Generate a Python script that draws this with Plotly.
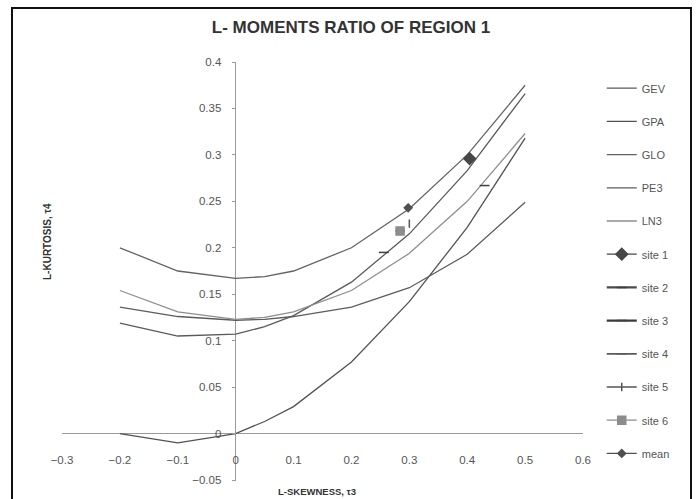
import plotly.graph_objects as go

# L-skewness values at which the theoretical curves are tabulated
tau3 = [-0.2, -0.1, 0.0, 0.05, 0.1, 0.2, 0.3, 0.4, 0.5]

# L-kurtosis of the candidate distributions
gev = [0.119, 0.105, 0.107, 0.115, 0.127, 0.163, 0.215, 0.283, 0.366]
gpa = [0.000, -0.010, 0.000, 0.013, 0.029, 0.077, 0.142, 0.222, 0.318]
glo = [0.200, 0.175, 0.167, 0.169, 0.175, 0.200, 0.242, 0.300, 0.375]
pe3 = [0.136, 0.126, 0.122, 0.123, 0.126, 0.136, 0.157, 0.193, 0.249]
ln3 = [0.154, 0.131, 0.123, 0.125, 0.131, 0.154, 0.194, 0.250, 0.323]

# Sample L-moment ratios of the sites in the region
site_names = ["site 1", "site 2", "site 3", "site 4", "site 5", "site 6", "mean"]
site_t3 = [0.404, 0.430, 0.256, 0.284, 0.300, 0.284, 0.298]
site_t4 = [0.296, 0.267, 0.195, 0.218, 0.226, 0.218, 0.243]

curve_names = ["GEV", "GPA", "GLO", "PE3", "LN3"]
curve_values = [gev, gpa, glo, pe3, ln3]
curve_colors = ["#5a5a5a", "#525252", "#636363", "#5c5c5c", "#8e8e8e"]

site_styles = {
    "site 1": dict(symbol="diamond", size=9, color="#474747", lw=1.3, lc="#474747"),
    "site 2": dict(symbol="line-ew", size=7, color="#3e3e3e", lw=2.2, lc="#4a4a4a"),
    "site 3": dict(symbol="line-ew", size=7, color="#3e3e3e", lw=2.2, lc="#3a3a3a"),
    "site 4": dict(symbol="line-ew", size=7, color="#5a5a5a", lw=1.8, lc="#5a5a5a"),
    "site 5": dict(symbol="line-ns", size=6, color="#555555", lw=1.3, lc="#555555"),
    "site 6": dict(symbol="square", size=8, color="#8c8c8c", lw=1.3, lc="#8c8c8c"),
    "mean": dict(symbol="diamond", size=6, color="#505050", lw=1.3, lc="#505050"),
}

fig = go.Figure()

for name, vals, col in zip(curve_names, curve_values, curve_colors):
    fig.add_trace(go.Scatter(
        x=tau3, y=vals, mode="lines", name=name, legendgroup=name,
        line=dict(color=col, width=1.3),
    ))

for name, x, y in zip(site_names, site_t3, site_t4):
    s = site_styles[name]
    fig.add_trace(go.Scatter(
        x=[x], y=[y], mode="lines+markers", name=name, legendgroup=name,
        line=dict(color=s["lc"], width=s["lw"]),
        marker=dict(symbol=s["symbol"], size=s["size"], color=s["color"],
                    line=dict(color=s["color"], width=1.5)),
    ))

tick_font = dict(family="Liberation Sans, Arial, sans-serif", size=11.5, color="#555555")


def px_x(px):
    """Horizontal pixel position -> paper coordinate."""
    return (px - 62) / 521


def px_y(py):
    """Vertical pixel position -> paper coordinate."""
    return (480 - py) / 418


fig.update_layout(
    width=699, height=499,
    margin=dict(l=62, r=116, t=62, b=19),
    paper_bgcolor="white", plot_bgcolor="white",
    title=dict(
        text="<b>L- MOMENTS RATIO OF REGION 1</b>",
        x=351 / 699, xref="container", xanchor="center",
        y=1 - 27 / 499, yref="container", yanchor="middle",
        font=dict(family="Liberation Sans, Arial, sans-serif", size=17, color="#333333"),
    ),
    xaxis=dict(
        range=[-0.3, 0.6], dtick=0.1, tick0=0,
        showgrid=False, showline=False,
        zeroline=True, zerolinecolor="#9a9a9a", zerolinewidth=1,
        ticks="", tickfont=tick_font,
        anchor="free", position=0.068,
    ),
    yaxis=dict(
        range=[-0.05, 0.4], dtick=0.05, tick0=0,
        showgrid=False, showline=False,
        zeroline=True, zerolinecolor="#9a9a9a", zerolinewidth=1,
        ticks="outside", ticklen=4, tickcolor="#9a9a9a",
        tickfont=tick_font, ticklabelstandoff=8,
        anchor="free", position=1 / 3,
    ),
    legend=dict(
        x=1.036, xanchor="left", y=0.972, yanchor="top",
        font=dict(family="Liberation Sans, Arial, sans-serif", size=11, color="#555555"),
        tracegroupgap=14.2, traceorder="grouped",
        bgcolor="rgba(0,0,0,0)",
    ),
    showlegend=True,
    annotations=[
        dict(text="<b>L-KURTOSIS, τ4</b>", textangle=-90,
             x=px_x(47), y=px_y(242), xref="paper", yref="paper",
             xanchor="center", yanchor="middle", showarrow=False,
             font=dict(family="Liberation Sans, Arial, sans-serif", size=10, color="#333333")),
        dict(text="<b>L-SKEWNESS, τ3</b>",
             x=px_x(317), y=px_y(492), xref="paper", yref="paper",
             xanchor="center", yanchor="middle", showarrow=False,
             font=dict(family="Liberation Sans, Arial, sans-serif", size=9.5, color="#333333")),
    ],
    shapes=[
        dict(type="rect", xref="paper", yref="paper",
             x0=px_x(12), x1=px_x(691), y0=px_y(503), y1=px_y(8),
             line=dict(color="#111111", width=2), fillcolor="rgba(0,0,0,0)", layer="below"),
    ],
)

fig.write_html("out.html")
